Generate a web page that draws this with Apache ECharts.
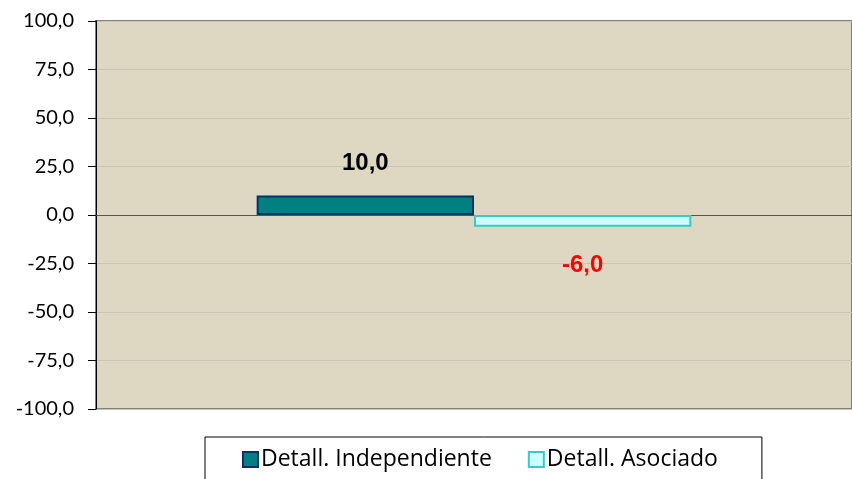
<!DOCTYPE html>
<html lang="es">
<head>
    <meta charset="UTF-8">
    <title>Detall</title>
    <style>
        html, body { margin: 0; padding: 0; background: #fff; }
        #main { width: 852px; height: 479px; }
    </style>
    <script src="https://cdn.jsdelivr.net/npm/echarts@6/dist/echarts.min.js"></script>
</head>
<body>
<div id="main"></div>
<script>
    // datos del grafico
    var categorias = [''];
    var series = ['Detall. Independiente', 'Detall. Asociado'];
    var independiente = [10.0];
    var asociado = [-6.0];
    var ejeMin = -100, ejeMax = 100, ejePaso = 25;

    function coma(v) {
        return v.toFixed(1).replace('.', ',');
    }

    var chart = echarts.init(document.getElementById('main'));
    var option = {
        animation: false,
        backgroundColor: '#ffffff',
        grid: {
            left: 96,
            right: -3,
            top: 21,
            bottom: 70,
            show: true,
            backgroundColor: '#DED8C3',
            borderColor: '#808080',
            borderWidth: 2
        },
        legend: {
            data: series,
            left: 205,
            top: 437,
            padding: [11, 44, 30, 37],
            borderColor: '#000',
            borderWidth: 1,
            itemWidth: 15,
            itemHeight: 15,
            itemGap: 36,
            icon: 'rect',
            textStyle: {
                fontFamily: 'Open Sans',
                fontSize: 23,
                color: '#000',
                padding: [0, 0, 0, -2]
            }
        },
        xAxis: {
            type: 'category',
            data: categorias,
            axisLine: { onZero: true, lineStyle: { color: '#555', width: 1 } },
            axisTick: { show: false },
            axisLabel: { show: false }
        },
        yAxis: {
            type: 'value',
            min: ejeMin,
            max: ejeMax,
            interval: ejePaso,
            axisLine: { show: true, lineStyle: { color: '#000', width: 1 } },
            axisTick: { show: true, length: 8, lineStyle: { color: '#000' } },
            axisLabel: {
                margin: 22,
                fontFamily: 'Lato',
                fontSize: 20,
                color: '#000',
                formatter: function (v) { return coma(v); }
            },
            splitLine: { lineStyle: { color: '#C8C4B6', width: 1 } }
        },
        series: [
            {
                name: series[0],
                type: 'bar',
                data: independiente,
                barGap: '0%',
                barCategoryGap: '42.5%',
                itemStyle: { color: '#008080', borderColor: '#003366', borderWidth: 2 },
                label: {
                    show: true,
                    position: 'top',
                    distance: 20,
                    fontFamily: 'Liberation Sans',
                    fontWeight: 'bold',
                    fontSize: 24,
                    color: '#000',
                    formatter: function (p) { return coma(p.value); }
                }
            },
            {
                name: series[1],
                type: 'bar',
                data: asociado,
                barGap: '0%',
                barCategoryGap: '42.5%',
                itemStyle: { color: '#CCFFFF', borderColor: '#33CCCC', borderWidth: 2 },
                label: {
                    show: true,
                    position: 'bottom',
                    distance: 27,
                    fontFamily: 'Liberation Sans',
                    fontWeight: 'bold',
                    fontSize: 24,
                    color: '#FF0000',
                    formatter: function (p) { return coma(p.value); }
                }
            }
        ]
    };
    chart.setOption(option);
</script>
</body>
</html>
